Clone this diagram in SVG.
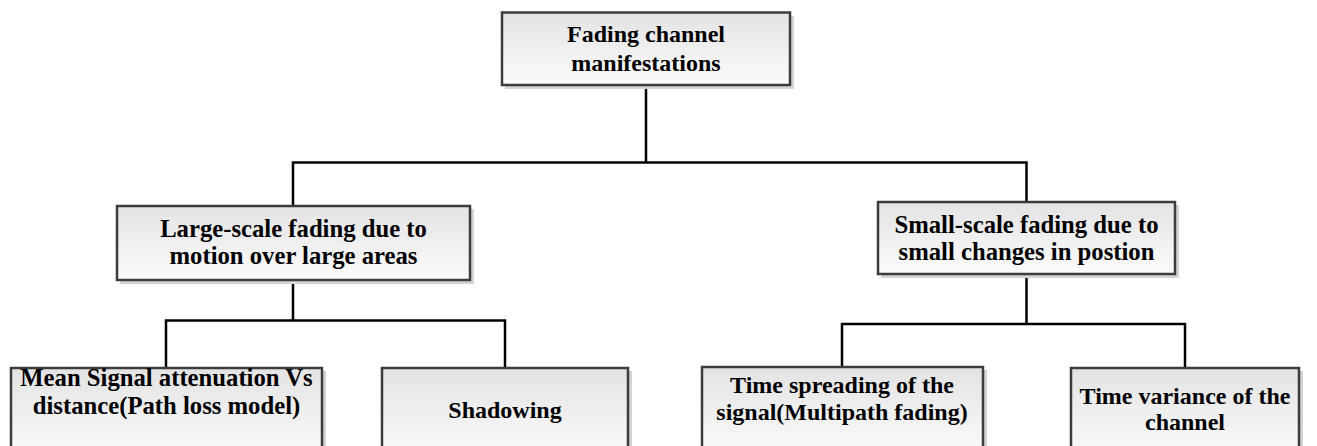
<svg xmlns="http://www.w3.org/2000/svg" width="1317" height="446" viewBox="0 0 1317 446">
  <defs>
    <linearGradient id="boxFill" x1="0" y1="0" x2="0" y2="1">
      <stop offset="0" stop-color="#e3e3e3"/>
      <stop offset="1" stop-color="#fbfbfb"/>
    </linearGradient>
  </defs>
  <style>
    .shadow { fill: #d4d4d4; }
    .box { fill: url(#boxFill); stroke: #3c3c3c; stroke-width: 2.5; }
    .label { font-family: "Liberation Serif", "Times New Roman", serif; font-weight: bold; font-size: 24px; fill: #000; text-anchor: middle; }
    .wide { font-size: 24.7px; }
    .wire { fill: none; stroke: #000; stroke-width: 2.5; stroke-linejoin: miter; }
  </style>
  <rect width="1317" height="446" fill="#fff"/>

  <!-- tree connectors -->
  <g id="connectors">
    <path class="wire" d="M646,85 V162.5 M293,206 V162.5 H1026.5 V202"/>
    <path class="wire" d="M293,280 V320.5 M166,368 V320.5 H505 V368"/>
    <path class="wire" d="M1026.5,274 V324 M842,367 V324 H1185 V372"/>
  </g>

  <g id="root">
    <rect class="shadow" x="505" y="16" width="289" height="73"/>
    <rect class="box" x="502" y="12.5" width="288" height="72.5"/>
    <text class="label" x="646" y="42">Fading channel</text>
    <text class="label" x="646" y="71">manifestations</text>
  </g>

  <g id="large-scale">
    <rect class="shadow" x="120" y="209" width="354" height="75"/>
    <rect class="box" x="117" y="206" width="353" height="74"/>
    <text class="label wide" x="293.5" y="237">Large-scale fading due to</text>
    <text class="label wide" x="293.5" y="264">motion over large areas</text>
  </g>

  <g id="small-scale">
    <rect class="shadow" x="881" y="205" width="298" height="73"/>
    <rect class="box" x="878" y="202" width="297" height="72"/>
    <text class="label wide" x="1026.5" y="233">Small-scale fading due to</text>
    <text class="label wide" x="1026.5" y="260">small changes in postion</text>
  </g>

  <g id="path-loss">
    <rect class="shadow" x="14" y="371" width="312" height="90"/>
    <rect class="box" x="11" y="368" width="311" height="90"/>
    <text class="label wide" x="166.5" y="386">Mean Signal attenuation Vs</text>
    <text class="label wide" x="166.5" y="414">distance(Path loss model)</text>
  </g>

  <g id="shadowing">
    <rect class="shadow" x="385" y="371" width="247" height="90"/>
    <rect class="box" x="382" y="368" width="246" height="90"/>
    <text class="label" x="505" y="418">Shadowing</text>
  </g>

  <g id="multipath">
    <rect class="shadow" x="705" y="370" width="282" height="90"/>
    <rect class="box" x="702" y="367" width="281" height="90"/>
    <text class="label" x="842" y="393">Time spreading of the</text>
    <text class="label" x="842" y="420">signal(Multipath fading)</text>
  </g>

  <g id="time-variance">
    <rect class="shadow" x="1074" y="371" width="229" height="90"/>
    <rect class="box" x="1071" y="368" width="228" height="90"/>
    <text class="label" x="1185" y="404">Time variance of the</text>
    <text class="label" x="1185" y="430">channel</text>
  </g>
</svg>
